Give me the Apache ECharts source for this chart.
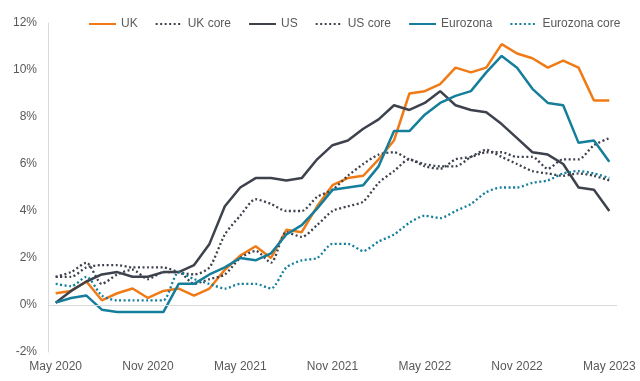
<!DOCTYPE html>
<html>
<head>
<meta charset="utf-8">
<script src="https://cdn.jsdelivr.net/npm/echarts@6/dist/echarts.min.js"></script>
<style>html,body{margin:0;padding:0;background:#fff}#c{width:640px;height:381px}</style>
</head>
<body>
<div id="c"></div>
<script>
const categories = [];
const monthNames = ['May','Jun','Jul','Aug','Sep','Oct','Nov','Dec','Jan','Feb','Mar','Apr'];
const startYear = 2020;
for (let i = 0; i < 37; i++) {
  const m = monthNames[i % 12];
  const y = startYear + Math.floor((i + 4) / 12);
  categories.push(m + ' ' + y);
}
const uk = [0.5,0.6,1.0,0.2,0.5,0.7,0.3,0.6,0.7,0.4,0.7,1.5,2.1,2.5,2.0,3.2,3.1,4.2,5.1,5.4,5.5,6.2,7.0,9.0,9.1,9.4,10.1,9.9,10.1,11.1,10.7,10.5,10.1,10.4,10.1,8.7,8.7];
const ukCore = [1.2,1.4,1.8,0.9,1.3,1.5,1.1,1.4,1.4,0.9,1.1,1.3,2.0,2.3,1.8,3.1,2.9,3.4,4.0,4.2,4.4,5.2,5.7,6.2,5.9,5.8,6.2,6.3,6.5,6.5,6.3,6.3,5.8,6.2,6.2,6.8,7.1];
const us = [0.1,0.6,1.0,1.3,1.4,1.2,1.2,1.4,1.4,1.7,2.6,4.2,5.0,5.4,5.4,5.3,5.4,6.2,6.8,7.0,7.5,7.9,8.5,8.3,8.6,9.1,8.5,8.3,8.2,7.7,7.1,6.5,6.4,6.0,5.0,4.9,4.0];
const usCore = [1.2,1.2,1.6,1.7,1.7,1.6,1.6,1.6,1.4,1.3,1.6,3.0,3.8,4.5,4.3,4.0,4.0,4.6,4.9,5.5,6.0,6.4,6.5,6.2,6.0,5.9,5.9,6.3,6.6,6.3,6.0,5.7,5.6,5.5,5.6,5.5,5.3];
const ez = [0.1,0.3,0.4,-0.2,-0.3,-0.3,-0.3,-0.3,0.9,0.9,1.3,1.6,2.0,1.9,2.2,3.0,3.4,4.1,4.9,5.0,5.1,5.9,7.4,7.4,8.1,8.6,8.9,9.1,9.9,10.6,10.1,9.2,8.6,8.5,6.9,7.0,6.1];
const ezCore = [0.9,0.8,1.2,0.4,0.2,0.2,0.2,0.2,1.4,1.1,0.9,0.7,0.9,0.9,0.7,1.6,1.9,2.0,2.6,2.6,2.3,2.7,3.0,3.5,3.8,3.7,4.0,4.3,4.8,5.0,5.0,5.2,5.3,5.6,5.7,5.6,5.4];
const yTicks = [-2,0,2,4,6,8,10,12];

const ORANGE = '#F07B16', DARK = '#3D424D', TEAL = '#157E9B';
function solid(name, data, color) {
  return {name, type:'line', data, symbol:'none', smooth:false,
    lineStyle:{color, width:2.5, type:'solid'}, itemStyle:{color}};
}
function dotted(name, data, color) {
  return {name, type:'line', data, symbol:'none', smooth:0.25,
    lineStyle:{color, width:2.3, type:[2,2.5]}, itemStyle:{color}};
}
const series = [
  solid('UK', uk, ORANGE),
  dotted('UK core', ukCore, DARK),
  solid('US', us, DARK),
  dotted('US core', usCore, DARK),
  solid('Eurozona', ez, TEAL),
  dotted('Eurozona core', ezCore, TEAL)
];
series[0].markLine = {silent:true, symbol:'none', label:{show:false},
  lineStyle:{color:'#D9D9D9', width:1, type:'solid'}, data:[{yAxis:0}]};

const chart = echarts.init(document.getElementById('c'), null, {renderer:'canvas'});
chart.setOption({
  animation:false,
  textStyle:{fontFamily:'Liberation Sans, Arial, sans-serif'},
  legend:{top:18, left:88, width:552, padding:0, itemWidth:27, itemHeight:10, itemGap:17,
    itemStyle:{opacity:0},
    textStyle:{fontSize:12, color:'#595959'},
    data:series.map(s=>s.name)},
  grid:{left:48, right:23, top:23, bottom:29, containLabel:false},
  xAxis:{type:'category', data:categories, boundaryGap:true,
    axisLine:{show:false}, axisTick:{show:false},
    axisLabel:{interval:5, color:'#595959', fontSize:12, margin:9}},
  yAxis:{type:'value', min:-2, max:12, interval:2,
    axisLine:{show:true, lineStyle:{color:'#D9D9D9', width:1}},
    axisTick:{show:false}, splitLine:{show:false},
    axisLabel:{color:'#595959', fontSize:12, margin:11, formatter: v => v + '%'}},
  series
});
</script>
</body>
</html>
